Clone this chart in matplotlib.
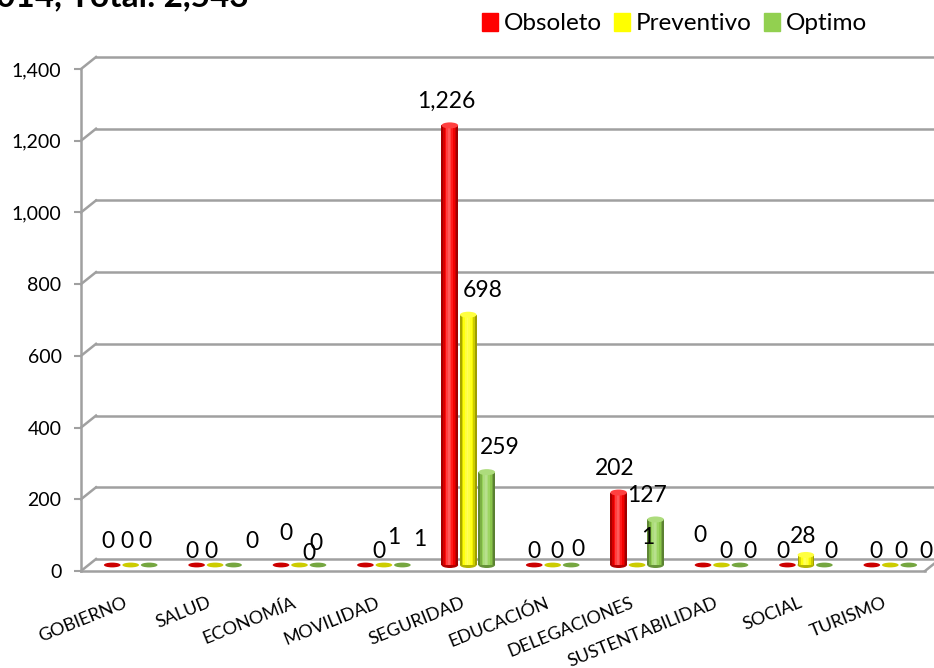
import numpy as np
import matplotlib
matplotlib.use('Agg')
import matplotlib.pyplot as plt
import matplotlib.transforms as mtransforms
from matplotlib.patches import Ellipse, Patch

plt.rcParams['font.family'] = ['Lato', 'DejaVu Sans']

# data
categories = ['GOBIERNO', 'SALUD', 'ECONOMÍA', 'MOVILIDAD', 'SEGURIDAD',
              'EDUCACIÓN', 'DELEGACIONES', 'SUSTENTABILIDAD', 'SOCIAL', 'TURISMO']
obsoleto = [0, 0, 0, 0, 1226, 0, 202, 0, 0, 0]
preventivo = [0, 0, 0, 1, 698, 0, 1, 0, 28, 0]
optimo = [0, 0, 0, 1, 259, 0, 127, 0, 0, 0]
series_names = ['Obsoleto', 'Preventivo', 'Optimo']
series_colors = ['#FF0000', '#FFFF00', '#92D050']
yticks = [0, 200, 400, 600, 800, 1000, 1200, 1400]
title = '014, Total: 2,543'

# nudges for data labels (pixels) where Excel placed them oddly
label_nudge = {
    (0, 1): (-1, -11), (1, 1): (0, -11), (2, 1): (22, 0),
    (0, 2): (9, 8), (1, 2): (13, -12), (2, 2): (2, -2),
    (0, 3): (18, -11), (1, 3): (14, 3), (2, 3): (21, 1),
    (1, 4): (18, 0), (2, 4): (17, 1),
    (0, 5): (4, -10), (1, 5): (8, -10), (2, 5): (11, -9),
    (1, 6): (15, 3), (2, 6): (-5, 0),
    (0, 7): (1, 5), (1, 7): (8, -10), (2, 7): (14, -10),
    (0, 8): (0, -10), (1, 8): (1, -6), (2, 8): (11, -10),
    (0, 9): (8, -10), (1, 9): (15, -10), (2, 9): (21, -10),
}

W, H = 934, 668
fig = plt.figure(figsize=(W / 100, H / 100), dpi=100)
x0, x1, y0, y1 = 81, 925, 571, 69
ax = fig.add_axes([x0 / W, (H - y0) / H, (x1 - x0) / W, (y0 - y1) / H])
ax.set_xlim(0, 10)
ax.set_ylim(0, 1400)

grid_c = '#A0A0A0'
back = mtransforms.offset_copy(ax.transData, fig=fig, x=15, y=12, units='dots')
mid = mtransforms.offset_copy(ax.transData, fig=fig, x=7.5, y=6, units='dots')
px_per_unit = (y0 - y1) / 1400.0

# back wall gridlines with diagonal joins
for v in yticks:
    ax.plot([0, 10], [v, v], color=grid_c, lw=1.8, transform=back, clip_on=False, zorder=1)
    ax.plot([0, 0.178], [v, v + 12 / px_per_unit], color=grid_c, lw=1.8, clip_on=False, zorder=1)
# floor front edge + right diagonal
ax.plot([0, 10], [0, 0], color=grid_c, lw=1.8, clip_on=False, zorder=1)
ax.plot([10, 10 + 15 / 84.4], [0, 12 / px_per_unit], color=grid_c, lw=1.8, clip_on=False, zorder=1)


def shade(c, f):
    c = np.array(matplotlib.colors.to_rgb(c))
    if f >= 0:
        return tuple(c + (1 - c) * f)
    return tuple(c * (1 + f))


bw = 0.219
n_sl = 10
prof = np.array([-0.35, -0.15, 0.05, 0.25, 0.35, 0.25, 0.1, -0.05, -0.2, -0.38])
all_series = [obsoleto, preventivo, optimo]
cap_h = 6 / px_per_unit
for j, vals in enumerate(all_series):
    col = series_colors[j]
    for i, v in enumerate(vals):
        xc = i + 0.5 + (j - 1) * bw
        edges = np.linspace(xc - bw * 0.45, xc + bw * 0.45, n_sl + 1)
        if v > cap_h:
            for k in range(n_sl):
                r = ax.bar(edges[k], v, width=edges[k + 1] - edges[k], align='edge',
                           color=shade(col, prof[k]), lw=0, zorder=3 + i * 0.01)
                for p in r:
                    p.set_transform(mid)
                    p.set_clip_on(False)
            ax.add_patch(Ellipse((xc, 0), bw * 0.9, cap_h, transform=mid,
                                 color=shade(col, -0.3), lw=0, zorder=2.9, clip_on=False))
            ax.add_patch(Ellipse((xc, v), bw * 0.9, cap_h, transform=mid,
                                 color=shade(col, 0.25), lw=0, zorder=3.5 + i * 0.01, clip_on=False))
        else:
            ax.add_patch(Ellipse((xc, 0), bw * 0.9, cap_h * 0.8, transform=mid,
                                 color=shade(col, -0.2), lw=0, zorder=3, clip_on=False))
        dx, dy = label_nudge.get((j, i), (0, 0))
        tt = mtransforms.offset_copy(ax.transData, fig=fig, x=7.5 - 4 + dx,
                                     y=6 + 24 + dy, units='dots')
        ax.text(xc, v, f'{v:,}', transform=tt, ha='center', va='center',
                fontsize=16.5, color='black', zorder=5, clip_on=False)

# axes styling
for s in ['top', 'right', 'bottom']:
    ax.spines[s].set_visible(False)
ax.spines['left'].set_color(grid_c)
ax.spines['left'].set_linewidth(1.8)
ax.set_yticks(yticks)
ax.set_yticklabels([f'{v:,}' for v in yticks], fontsize=14)
ax.tick_params(axis='y', length=5, width=1.5, color=grid_c, pad=9)
ax.set_xticks(np.arange(10) + 0.5)
ax.set_xticklabels(categories, rotation=22, ha='right', rotation_mode='anchor',
                   fontsize=13)
ax.tick_params(axis='x', length=0, pad=17)
ax.patch.set_alpha(0)

fig.text(-0.004, 1.026, title, fontsize=24, fontweight='bold', ha='left', va='top')

handles = [Patch(color=c, label=n) for c, n in zip(series_colors, series_names)]
fig.legend(handles=handles, loc='upper right', bbox_to_anchor=(0.952, 1.014), ncol=3,
           frameon=False, fontsize=17.5, handlelength=0.65, handleheight=0.8,
           handletextpad=0.25, columnspacing=0.5)

fig.savefig('out.png', dpi=100)
